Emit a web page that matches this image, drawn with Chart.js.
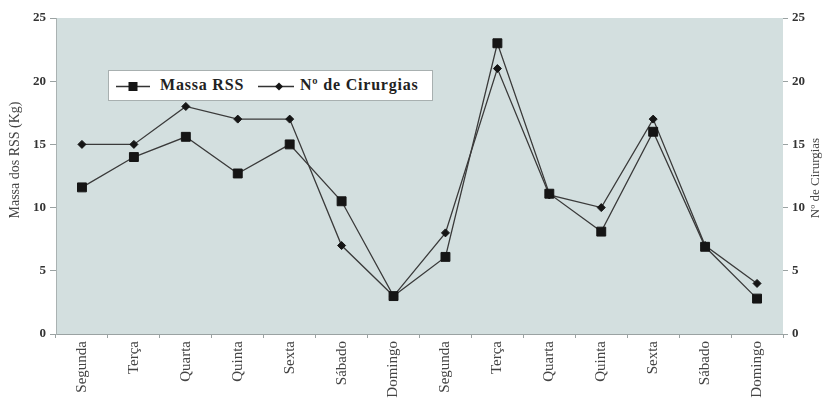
<!DOCTYPE html>
<html>
<head>
<meta charset="utf-8">
<script src="https://cdn.jsdelivr.net/npm/chart.js@4/dist/chart.umd.min.js"></script>
<style>
  html, body { margin: 0; padding: 0; background: #ffffff; }
  #wrap { position: relative; width: 822px; height: 400px; }
  #grafico { display: block; }
  #legenda {
    position: absolute; left: 108px; top: 70px; width: 325px; height: 31px;
    box-sizing: border-box; background: #ffffff; border: 1px solid #a8b0b0;
  }
  #legenda svg { position: absolute; top: 0; }
  #legenda span {
    position: absolute; top: 5px; font: bold 16px "Liberation Serif", "DejaVu Serif", serif;
    letter-spacing: 0.8px; color: #222; white-space: nowrap;
  }
</style>
</head>
<body>
<div id="wrap">
  <canvas id="grafico" width="822" height="400"></canvas>
  <div id="legenda">
    <svg width="45" height="31" style="left:5px">
      <line x1="2" y1="15.5" x2="36" y2="15.5" stroke="#333" stroke-width="1.4"/>
      <rect x="14.5" y="11" width="9" height="9" fill="#151515"/>
    </svg>
    <span style="left:51px">Massa RSS</span>
    <svg width="45" height="31" style="left:147px">
      <line x1="2" y1="15.5" x2="38" y2="15.5" stroke="#333" stroke-width="1.4"/>
      <polygon points="23,11.5 27,15.5 23,19.5 19,15.5" fill="#151515"/>
    </svg>
    <span style="left:191px">Nº de Cirurgias</span>
  </div>
</div>
<script>
// Dias da semana (duas semanas de coleta)
const dias = ['Segunda', 'Terça', 'Quarta', 'Quinta', 'Sexta', 'Sábado', 'Domingo',
              'Segunda', 'Terça', 'Quarta', 'Quinta', 'Sexta', 'Sábado', 'Domingo'];

// Massa dos RSS (Kg) por dia
const massaRSS = [11.6, 14.0, 15.6, 12.7, 15.0, 10.5, 3.0, 6.1, 23.0, 11.1, 8.1, 16.0, 6.9, 2.8];

// Número de cirurgias por dia
const cirurgias = [15, 15, 18, 17, 17, 7, 3, 8, 21, 11, 10, 17, 7, 4];

// Escala comum aos dois eixos verticais
const escalaMin = 0;
const escalaMax = 25;
const escalaPasso = 5;

const tituloEsq = 'Massa dos RSS (Kg)';
const tituloDir = 'Nº de Cirurgias';

const serif = '"Liberation Serif", "DejaVu Serif", serif';

// fundo da área de plotagem
const fundoArea = {
  id: 'fundoArea',
  beforeDraw(chart) {
    const { ctx, chartArea: a } = chart;
    ctx.save();
    ctx.fillStyle = '#d3dfdf';
    ctx.fillRect(a.left, a.top, a.right - a.left, a.bottom - a.top);
    ctx.restore();
  }
};

// títulos dos eixos verticais, lidos de baixo para cima
const titulosEixos = {
  id: 'titulosEixos',
  afterDraw(chart) {
    const { ctx } = chart;
    const desenha = (txt, x, y, tam) => {
      ctx.save();
      ctx.translate(x, y);
      ctx.rotate(-Math.PI / 2);
      ctx.font = tam + 'px ' + serif;
      ctx.fillStyle = '#444';
      ctx.textAlign = 'center';
      ctx.textBaseline = 'middle';
      ctx.fillText(txt, 0, 0);
      ctx.restore();
    };
    desenha(tituloEsq, 15, 160, 14);
    desenha(tituloDir, 816, 178, 13);
  }
};

const fixa = (prop, valor) => (scale) => { scale[prop] = valor; };

new Chart(document.getElementById('grafico'), {
  type: 'line',
  data: {
    labels: dias,
    datasets: [
      {
        label: 'Massa RSS',
        data: massaRSS,
        yAxisID: 'y',
        borderColor: '#3a3a3a',
        borderWidth: 1.3,
        pointStyle: 'rect',
        pointRadius: 6.3,
        pointBackgroundColor: '#151515',
        pointBorderColor: '#151515',
        pointBorderWidth: 1,
        tension: 0
      },
      {
        label: 'Nº de Cirurgias',
        data: cirurgias,
        yAxisID: 'y2',
        borderColor: '#3a3a3a',
        borderWidth: 1.3,
        pointStyle: 'rectRot',
        pointRadius: 4,
        pointBackgroundColor: '#151515',
        pointBorderColor: '#151515',
        pointBorderWidth: 1,
        tension: 0
      }
    ]
  },
  options: {
    responsive: false,
    animation: false,
    layout: { padding: { top: 18, left: 0, right: 0, bottom: 0 } },
    plugins: {
      legend: { display: false },
      tooltip: { enabled: false }
    },
    scales: {
      x: {
        type: 'category',
        offset: true,
        afterFit: fixa('height', 66),
        grid: { display: true, offset: true, drawOnChartArea: false, tickLength: 4, color: '#9aa2a2' },
        border: { display: true, color: '#9aa2a2', width: 1 },
        ticks: {
          minRotation: 90, maxRotation: 90, autoSkip: false, padding: 3,
          color: '#444', font: { family: serif, size: 15 }
        }
      },
      y: {
        position: 'left',
        min: escalaMin, max: escalaMax,
        afterFit: fixa('width', 56),
        grid: { display: true, drawOnChartArea: false, tickLength: 6, color: '#9aa2a2' },
        border: { display: true, color: '#aab2b2', width: 1 },
        ticks: {
          stepSize: escalaPasso, padding: 4,
          color: '#333', font: { family: serif, size: 13, weight: 'bold' }
        }
      },
      y2: {
        position: 'right',
        min: escalaMin, max: escalaMax,
        afterFit: fixa('width', 39),
        grid: { display: true, drawOnChartArea: false, tickLength: 5, color: '#9aa2a2' },
        border: { display: false },
        ticks: {
          stepSize: escalaPasso, padding: 4,
          color: '#333', font: { family: serif, size: 13, weight: 'bold' }
        }
      }
    }
  },
  plugins: [fundoArea, titulosEixos]
});
</script>
</body>
</html>
